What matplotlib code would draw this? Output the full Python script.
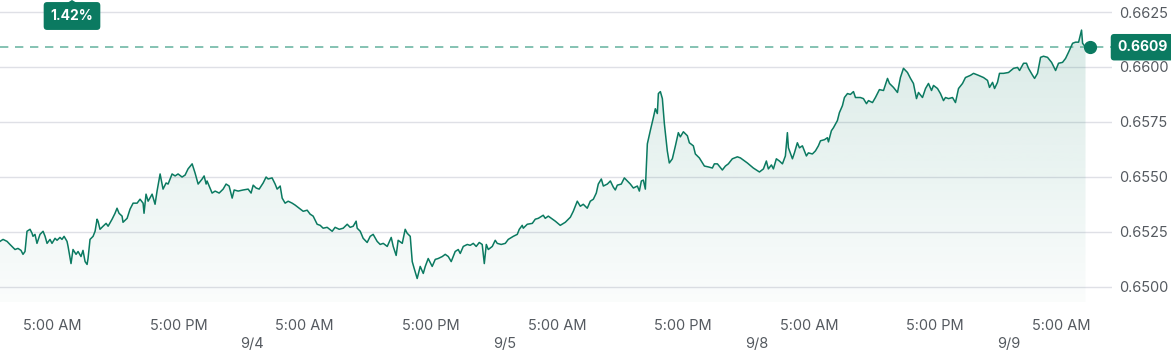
import numpy as np
import matplotlib
matplotlib.use("Agg")
import matplotlib.pyplot as plt
from matplotlib.patches import Polygon
from matplotlib.transforms import blended_transform_factory

plt.rcParams['font.family'] = ['Inter', 'DejaVu Sans']

# hours since 9/3 00:00, trading time only (weekend removed)
hours = [
    0.00, 0.29, 0.67, 0.95, 1.43, 1.71, 2.00, 2.19, 2.38, 2.57, 2.86, 3.05, 3.14, 3.33, 3.52, 3.81,
    4.10, 4.29, 4.48, 4.76, 4.95, 5.24, 5.43, 5.71, 5.90, 6.10, 6.38, 6.48, 6.76, 6.95, 7.24, 7.43,
    7.71, 7.90, 8.10, 8.29, 8.38, 8.57, 8.86, 9.05, 9.24, 9.33, 9.52, 9.81, 10.10, 10.29, 10.67, 10.95,
    11.14, 11.33, 11.62, 11.71, 12.10, 12.38, 12.67, 13.05, 13.33, 13.62, 13.71, 13.90, 14.10, 14.48,
    14.76, 14.95, 15.24, 15.52, 15.81, 16.00, 16.38, 16.67, 16.95, 17.33, 17.62, 17.90,
    18.29, 18.57, 18.86, 19.24, 19.43, 19.62, 19.71, 20.19, 20.48, 20.86, 21.24, 21.52, 21.81, 22.10,
    22.29, 22.67, 23.14, 23.62, 23.90, 24.10, 24.38, 24.67, 25.05, 25.33, 25.52, 25.90, 26.19, 26.38,
    26.67, 26.86, 27.14, 27.43, 27.81, 28.10, 28.48, 28.86, 29.24, 29.52, 29.81, 30.19, 30.48, 30.76,
    31.14, 31.62, 31.90, 32.29, 32.67, 33.05, 33.33, 33.62, 33.90, 34.00, 34.29, 34.57, 34.95,
    35.24, 35.52, 35.90, 36.19, 36.48, 36.86, 37.24, 37.43, 37.71, 37.90, 38.29, 38.57, 38.76, 39.05,
    39.24, 39.43, 39.71, 40.00, 40.29, 40.48, 40.76, 41.14, 41.43, 41.71, 42.10, 42.38, 42.67, 42.95,
    43.33, 43.62, 43.81, 44.10, 44.48, 44.76, 45.05, 45.33, 45.62, 45.90, 46.10, 46.29, 46.48, 46.86,
    47.14, 47.33, 47.71, 48.10, 48.38, 48.86, 49.24, 49.43, 49.71, 49.81, 50.19, 50.67, 50.95, 51.24,
    51.71, 51.90, 52.19, 52.86, 53.33, 53.81, 54.29, 54.57, 54.95, 55.24, 55.52, 55.90, 56.19, 56.48,
    56.76, 56.95, 57.24, 57.43, 57.81, 58.10, 58.38, 58.57, 58.76, 59.14, 59.43, 59.71, 60.00, 60.29,
    60.67, 60.86, 61.05, 61.24, 61.43, 61.62, 61.90, 62.19, 62.38, 62.57, 62.67, 62.86, 63.05, 63.24,
    63.52, 63.71, 64.00, 64.29, 64.57, 64.76, 65.05, 65.43, 65.62, 66.00, 66.19, 66.57, 67.05, 67.43,
    67.81, 68.00, 68.29, 68.76, 69.05, 69.33,
    69.71, 70.19, 70.48, 71.14, 71.71, 72.29, 72.67, 72.95, 73.14, 73.43, 73.62, 73.90, 74.19, 74.48,
    74.76, 74.95, 75.05, 75.43, 75.62, 75.90, 76.10, 76.38, 76.57, 76.76, 76.95, 77.33, 77.62, 77.90,
    78.10, 78.48, 78.76, 78.86, 79.14, 79.33, 79.71, 79.90, 80.19, 80.38, 80.67, 80.95, 81.24, 81.43,
    81.90, 82.19, 82.48, 82.67, 83.05, 83.33, 83.71, 84.10, 84.48, 84.67, 85.05, 85.43, 85.71, 86.00,
    86.38, 86.67, 86.95, 87.24, 87.43, 87.81, 88.10, 88.38, 88.67, 88.86, 89.24, 89.52, 89.81, 90.00,
    90.29, 90.67, 90.95, 91.24, 91.62, 91.90, 92.38, 92.67, 93.14, 93.62, 94.00, 94.19, 94.48, 94.67,
    94.95, 95.14, 95.52, 96.00, 96.48, 96.86, 97.05, 97.43, 97.71, 97.90, 98.29, 98.48, 98.76, 99.05,
    99.33, 99.71, 100.10, 100.48, 100.76, 101.14, 101.43, 101.71, 102.10, 102.38, 102.67, 102.95,
    103.05, 103.33,
]

prices = [
    0.65206, 0.65215, 0.65206, 0.65192, 0.65169, 0.65174, 0.65165, 0.65147, 0.65160, 0.65252, 0.65261,
    0.65243, 0.65229, 0.65238, 0.65197, 0.65238, 0.65252, 0.65229, 0.65197, 0.65215, 0.65197, 0.65220,
    0.65211, 0.65224, 0.65215, 0.65229, 0.65206, 0.65183, 0.65105, 0.65169, 0.65147, 0.65160, 0.65137,
    0.65165, 0.65114, 0.65101, 0.65128, 0.65215, 0.65229, 0.65252, 0.65307, 0.65298, 0.65261, 0.65275,
    0.65288, 0.65275, 0.65307, 0.65334, 0.65357, 0.65334, 0.65321, 0.65293, 0.65311, 0.65353, 0.65380,
    0.65380, 0.65398, 0.65380, 0.65334, 0.65421, 0.65389, 0.65421, 0.65375, 0.65435, 0.65513, 0.65444,
    0.65472, 0.65467, 0.65513, 0.65504, 0.65513, 0.65499, 0.65508, 0.65536,
    0.65559, 0.65517, 0.65467, 0.65490, 0.65504, 0.65467, 0.65481, 0.65426, 0.65435, 0.65426, 0.65444,
    0.65467, 0.65458, 0.65403, 0.65440, 0.65435, 0.65440, 0.65444, 0.65426, 0.65462, 0.65449, 0.65444,
    0.65472, 0.65499, 0.65490, 0.65495, 0.65467, 0.65444, 0.65458, 0.65403, 0.65380, 0.65389, 0.65380,
    0.65371, 0.65357, 0.65343, 0.65348, 0.65330, 0.65321, 0.65284, 0.65279, 0.65266, 0.65270, 0.65252,
    0.65270, 0.65261, 0.65266, 0.65284, 0.65270, 0.65275, 0.65298, 0.65266, 0.65252, 0.65220, 0.65201,
    0.65229, 0.65238, 0.65206, 0.65192, 0.65197, 0.65183, 0.65224, 0.65183, 0.65142, 0.65211, 0.65197,
    0.65261, 0.65243, 0.65229, 0.65114, 0.65082, 0.65037, 0.65092, 0.65060, 0.65092, 0.65128, 0.65092,
    0.65124, 0.65128, 0.65137, 0.65147, 0.65137, 0.65114, 0.65160, 0.65169, 0.65151, 0.65183, 0.65192,
    0.65188, 0.65197, 0.65183, 0.65201, 0.65192, 0.65105, 0.65192, 0.65169, 0.65183, 0.65211, 0.65197,
    0.65192, 0.65197, 0.65215, 0.65229, 0.65238, 0.65261, 0.65279, 0.65266, 0.65284, 0.65288, 0.65307,
    0.65311, 0.65325, 0.65311, 0.65321, 0.65298, 0.65279, 0.65293, 0.65316, 0.65343, 0.65389, 0.65366,
    0.65375, 0.65357, 0.65389, 0.65398, 0.65426, 0.65467, 0.65490, 0.65458, 0.65467, 0.65481, 0.65453,
    0.65440, 0.65462, 0.65467, 0.65495, 0.65481, 0.65467, 0.65449, 0.65458, 0.65435, 0.65481, 0.65485,
    0.65444, 0.65650, 0.65710, 0.65769, 0.65810, 0.65788, 0.65879, 0.65888, 0.65856, 0.65742, 0.65618,
    0.65563, 0.65582, 0.65641, 0.65701, 0.65682, 0.65705, 0.65687, 0.65655, 0.65641, 0.65604, 0.65586,
    0.65549, 0.65545, 0.65540, 0.65559, 0.65559, 0.65531, 0.65549, 0.65559,
    0.65582, 0.65591, 0.65586, 0.65563, 0.65540, 0.65522, 0.65536, 0.65572, 0.65536, 0.65554, 0.65536,
    0.65582, 0.65572, 0.65559, 0.65595, 0.65701, 0.65632, 0.65582, 0.65609, 0.65655, 0.65632, 0.65641,
    0.65618, 0.65595, 0.65609, 0.65604, 0.65618, 0.65641, 0.65664, 0.65669, 0.65678, 0.65659, 0.65710,
    0.65723, 0.65756, 0.65792, 0.65824, 0.65861, 0.65879, 0.65875, 0.65888, 0.65861, 0.65861, 0.65856,
    0.65833, 0.65847, 0.65838, 0.65861, 0.65897, 0.65893, 0.65948, 0.65925, 0.65907, 0.65884, 0.65952,
    0.65994, 0.65975, 0.65948, 0.65925, 0.65856, 0.65884, 0.65861, 0.65902, 0.65925, 0.65893, 0.65916,
    0.65902, 0.65879, 0.65847, 0.65861, 0.65856, 0.65861, 0.65838, 0.65902, 0.65925, 0.65952, 0.65962,
    0.65971, 0.65962, 0.65952, 0.65939, 0.65907, 0.65930, 0.65902, 0.65930, 0.65971, 0.65971, 0.65975,
    0.65994, 0.65998, 0.65984, 0.66017, 0.66017, 0.65994, 0.65962, 0.65948, 0.65971, 0.66044, 0.66049,
    0.66044, 0.66021, 0.65984, 0.66017, 0.66021, 0.66039, 0.66067, 0.66108, 0.66113, 0.66113, 0.66168,
    0.66108, 0.66090,
]

last_price = 0.6609
last_time = 103.8
change_label = "1.42%"

tick_hours = [5, 17, 29, 41, 53, 65, 77, 89, 101]
tick_labels = ["5:00 AM", "5:00 PM"] * 4 + ["5:00 AM"]
date_hours = [24, 48, 72, 96]
date_labels = ["9/4", "9/5", "9/8", "9/9"]
y_ticks = [0.6500, 0.6525, 0.6550, 0.6575, 0.6600, 0.6625]

green = "#0b7a61"
tick_color = "#555a60"
ymin, ymax = 0.64930, 0.66305
xmin, xmax = 0.0, 105.85

fig = plt.figure(figsize=(11.71, 3.56), dpi=100)
ax = fig.add_axes([0.0, 1 - 302 / 356, 1112 / 1171, 302 / 356])

t = np.array(hours)
p = np.array(prices)

# gradient area under the line
verts = np.column_stack([np.r_[t[0], t, t[-1]], np.r_[ymin, p, ymin]])
clip = Polygon(verts, closed=True, facecolor="none", edgecolor="none")
ax.add_patch(clip)
rgba = np.zeros((256, 1, 4))
rgba[..., :3] = matplotlib.colors.to_rgb(green)
rgba[..., 3] = np.linspace(0.17, 0.02, 256)[:, None]
im = ax.imshow(rgba, extent=[t[0], t[-1], ymin, ymax], aspect="auto",
               origin="upper", zorder=1, interpolation="bilinear")
im.set_clip_path(clip)

ax.plot(t, p, color=green, lw=1.1, zorder=3)
ax.axhline(last_price, color="#6fb8a5", lw=1.2, ls=(0, (5, 4)), zorder=2)
ax.plot([last_time], [last_price], "o", color=green, ms=8.5, zorder=4)

ax.set_xlim(xmin, xmax)
ax.set_ylim(ymin, ymax)

for s in ax.spines.values():
    s.set_visible(False)
ax.set_yticks(y_ticks)
ax.set_yticklabels([f"{v:.4f}" for v in y_ticks])
ax.yaxis.tick_right()
ax.grid(axis="y", color="#dfe0e6", lw=1.0, zorder=0)
ax.set_axisbelow(True)

ax.set_xticks(tick_hours)
ax.set_xticklabels(tick_labels)
ax.set_xticks(date_hours, minor=True)
ax.set_xticklabels(date_labels, minor=True)
ax.tick_params(axis="x", which="major", length=0, pad=12, labelsize=10.5, labelcolor=tick_color)
ax.tick_params(axis="x", which="minor", length=0, pad=25, labelsize=10.5, labelcolor=tick_color)
ax.tick_params(axis="y", length=0, pad=5, labelsize=10.5, labelcolor=tick_color)

# current value tag on the right
trans = blended_transform_factory(ax.transAxes, ax.transData)
ax.text(1.0 + 5 / 1112, last_price, f"{last_price:.4f}", transform=trans, ha="left", va="center",
        fontsize=10, fontweight="bold", color="white", zorder=6, clip_on=False,
        bbox=dict(boxstyle="round,pad=0.45,rounding_size=0.25", fc=green, ec="none"))

# change badge in the top-left
fig.text(72 / 1171, 1 - 16 / 356, change_label, ha="center", va="center",
         fontsize=10, fontweight="bold", color="white",
         bbox=dict(boxstyle="round,pad=0.5,rounding_size=0.25", fc=green, ec="none"))
fig.patches.append(Polygon([[67 / 1171, 1 - 3 / 356], [77 / 1171, 1 - 3 / 356], [72 / 1171, 1.0]],
                           closed=True, fc=green, ec="none", transform=fig.transFigure))

fig.savefig("out.png", dpi=100)
